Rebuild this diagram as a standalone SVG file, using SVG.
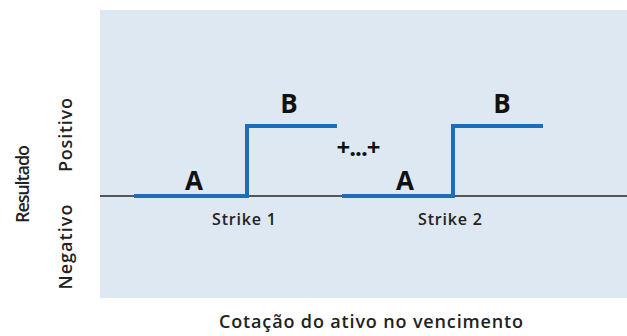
<svg xmlns="http://www.w3.org/2000/svg" width="627" height="336" viewBox="0 0 627 336">
<style>
.lbl{font-family:"Open Sans","Liberation Sans",sans-serif;font-weight:700;fill:#111}
.big{font-size:26px;text-anchor:middle}
.sm{font-family:"Open Sans","Liberation Sans",sans-serif;font-weight:600;font-size:16px;fill:#222;text-anchor:middle}
.ax{font-family:"Open Sans","Liberation Sans",sans-serif;font-weight:600;font-size:18px;fill:#222;text-anchor:middle}
.pay{fill:none;stroke:#1f6cb8;stroke-width:4}
</style>
<rect width="627" height="336" fill="#ffffff"/>
<rect id="panel" x="100" y="10" width="527" height="288" fill="#dee8f3"/>
<line x1="100" y1="196" x2="627" y2="196" stroke="#555" stroke-width="2"/>
<g id="connectors">
<polyline class="pay" points="134,196 247,196 247,126 337,126"/>
<polyline class="pay" points="342,196 453,196 453,126 543,126"/>
</g>
<g id="labels1">
<text class="lbl big" x="194" y="190">A</text>
<text class="lbl big" x="289" y="113">B</text>
<text class="sm" x="244" y="225" textLength="64">Strike 1</text>
</g>
<g id="labels2">
<text class="lbl big" x="405" y="190">A</text>
<text class="lbl big" x="502" y="113">B</text>
<text class="sm" x="450" y="225" textLength="64">Strike 2</text>
</g>
<text class="lbl" x="358" y="156" font-size="24" text-anchor="middle" letter-spacing="-1">+...+</text>
<text class="ax" transform="translate(29,184) rotate(-90)" font-size="17" font-weight="700" textLength="78">Resultado</text>
<text class="ax" transform="translate(72,135) rotate(-90)" textLength="74">Positivo</text>
<text class="ax" transform="translate(72,247) rotate(-90)" textLength="85">Negativo</text>
<text class="ax" x="371" y="328" textLength="304">Cotação do ativo no vencimento</text>
</svg>
